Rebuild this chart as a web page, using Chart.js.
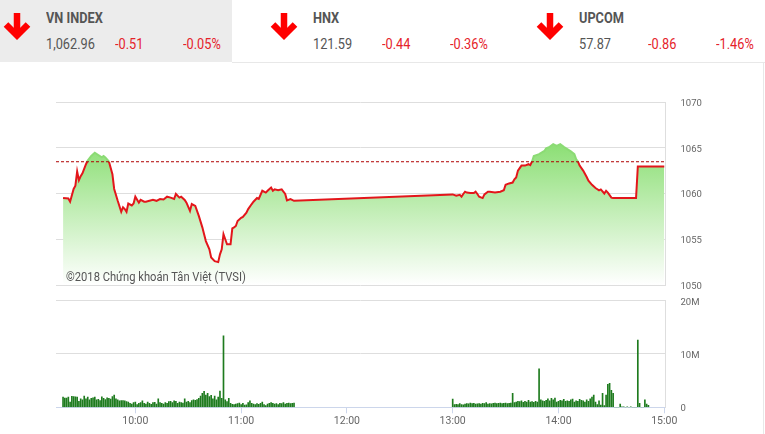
<!DOCTYPE html>
<html>
<head>
<meta charset="utf-8">
<script src="https://cdn.jsdelivr.net/npm/chart.js@4.4.1/dist/chart.umd.min.js"></script>
<style>
  html, body { margin: 0; padding: 0; background: #fff; }
  body { width: 765px; height: 434px; position: relative; overflow: hidden; font-family: Roboto, sans-serif; }
  .hdrbox { position: absolute; left: 0; top: 0; width: 232px; height: 62px; background: #ececec; }
  .hline { position: absolute; left: 232px; top: 62px; width: 533px; height: 1px; background: #e8e8e8; }
  .vline { position: absolute; left: 763px; top: 62px; width: 1px; height: 372px; background: #e8e8e8; }
  .t { position: absolute; white-space: nowrap; font-size: 15px; line-height: 15px; transform: scaleX(0.85); transform-origin: 0 0; color: #555; }
  .b { font-weight: bold; }
  .r { color: #e5222a; }
  .arrow { position: absolute; }
  .wm { position: absolute; left: 66px; top: 270px; font-size: 13px; line-height: 13px; color: #555; white-space: nowrap; transform: scaleX(0.86); transform-origin: 0 0; z-index: 5; }
  canvas { position: absolute; left: 0; }
</style>
</head>
<body>
<div class="hdrbox"></div>
<div class="hline"></div>
<div class="vline"></div>
<div id="hdr"></div>
<canvas id="pc" width="765" height="240" style="top:70px;width:765px;height:240px"></canvas>
<canvas id="vc" width="765" height="164" style="top:270px;width:765px;height:164px"></canvas>
<div class="wm">©2018 Chứng khoán Tân Việt (TVSI)</div>
<script>
// ---------- header data ----------
const idxNames   = ['VN INDEX', 'HNX', 'UPCOM'];
const idxValues  = ['1,062.96', '121.59', '57.87'];
const idxChanges = ['-0.51', '-0.44', '-0.86'];
const idxPcts    = ['-0.05%', '-0.36%', '-1.46%'];

// ---------- price data (VN-Index intraday) ----------
const refValue = 1063.47; // previous close
const priceTimes = [
 '09:19','09:22','09:23','09:25','09:26','09:27','09:28','09:29','09:30','09:32','09:33','09:35','09:37','09:39','09:41','09:42','09:43','09:45','09:47','09:48',
 '09:50','09:52','09:53','09:54','09:55','09:56','09:58','09:59','10:00','10:02','10:03','10:05','10:06','10:08','10:10','10:12','10:14','10:16','10:18','10:20',
 '10:22','10:23','10:25','10:26','10:28','10:29','10:31','10:32','10:34','10:36','10:38','10:39','10:40','10:42','10:43','10:45','10:47','10:48','10:49','10:50',
 '10:51','10:52','10:54','10:55','10:56','10:57','10:58','11:00','11:01','11:03','11:04','11:06','11:07','11:09','11:10','11:12','11:14','11:15','11:17','11:18',
 '11:19','11:21','11:23','11:25','11:26','11:28','11:30',
 '13:00','13:02','13:04','13:05','13:06','13:07','13:08','13:10','13:12','13:13','13:14','13:15','13:17','13:18','13:20','13:21','13:24','13:27','13:29','13:30',
 '13:32','13:34','13:35','13:36','13:37','13:39','13:41','13:43','13:44','13:45','13:46','13:49','13:52','13:53','13:55','13:57','13:59','14:01','14:03','14:05',
 '14:07','14:09','14:10','14:11','14:12','14:14','14:16','14:17','14:19','14:21','14:23','14:24','14:26','14:27','14:28','14:30','14:31','14:44','14:45','15:00'
];
const priceValues = [
 1059.5,1059.45,1059.1,1060.5,1060.85,1062.4,1061.45,1061.9,1062.2,1063.2,1063.6,1064.1,1064.45,1064.2,1063.95,1064.1,1063.95,1063.5,1062.1,1060.5,
 1059.2,1058.0,1058.5,1058.3,1058.0,1058.9,1058.7,1058.9,1059.65,1059.0,1059.3,1059.1,1059.1,1059.2,1059.3,1059.2,1059.4,1059.35,1059.65,1059.55,
 1059.4,1059.95,1059.55,1059.65,1059.3,1059.0,1058.1,1058.85,1058.65,1057.55,1056.3,1055.55,1054.8,1053.9,1053.0,1052.6,1052.5,1053.35,1053.9,1055.55,
 1055.0,1054.45,1054.45,1056.2,1056.3,1056.45,1057.0,1057.35,1057.45,1057.9,1058.3,1058.85,1059.1,1059.5,1059.4,1060.3,1060.1,1060.3,1060.65,1060.3,
 1060.45,1060.35,1060.45,1059.95,1059.25,1059.4,1059.2,
 1059.9,1059.75,1059.85,1059.65,1059.95,1060.2,1060.1,1060.05,1060.05,1060.2,1059.95,1059.65,1059.5,1059.9,1060.2,1060.2,1060.1,1060.2,1060.35,1060.95,
 1061.1,1061.2,1061.55,1061.75,1062.5,1063.05,1063.05,1063.2,1063.1,1063.5,1064.1,1064.3,1064.65,1064.95,1065.1,1065.4,1065.2,1065.4,1065.1,1064.85,
 1064.6,1064.3,1063.75,1063.5,1063.05,1062.5,1061.8,1061.4,1060.95,1060.6,1060.35,1060.45,1060.0,1060.3,1060.1,1059.55,1059.5,1059.5,1062.96,1062.96
];

// ---------- volume data (millions of shares, one bar per minute) ----------
const volAMStart = '09:19';
const volAM = [
 1.9,1.75,1.75,1.9,1.0,2.05,2.0,1.95,1.9,1.1,1.6,1.4,
 2.1,1.6,1.9,1.4,1.7,1.8,1.9,1.4,1.5,1.25,1.95,1.7,1.45,
 1.8,1.7,1.55,2.0,2.3,1.6,1.4,1.2,1.25,1.25,1.2,1.05,1.0,
 0.75,0.6,0.9,1.0,0.5,0.75,0.9,1.2,0.75,0.6,1.0,0.75,0.55,0.9,0.95,0.6,1.6,
 0.9,0.75,0.6,0.9,0.75,1.05,1.1,0.9,1.2,1.1,0.75,1.0,0.9,0.8,1.6,1.0,1.1,0.9,1.25,1.4,1.3,1.45,
 1.7,2.1,2.6,3.0,2.3,2.6,2.0,2.25,1.6,2.1,1.4,1.9,3.05,1.7,13.4,
 1.4,1.05,1.7,0.75,0.55,0.5,0.6,0.7,0.8,0.5,0.75,0.4,0.45,0.9,1.2,0.75,0.6,0.5,0.7,0.55,
 0.75,1.0,0.5,0.3,0.6,0.75,0.9,0.75,0.6,0.7,0.5,0.75,0.7,0.9,0.6,0.75,0.8,0.7,0.75,0.8
];
const volPMStart = '13:00';
const volPM = [
 1.55,
 0.5,0.55,0.5,0.7,0.5,0.45,0.6,0.7,0.65,0.8,
 0.7,0.75,0.6,0.65,0.7,0.6,0.75,0.7,0.9,0.6,
 0.7,0.65,0.75,0.8,0.7,0.75,0.8,0.7,0.75,0.8,
 0.7,0.75,0.8,2.6,
 0.9,1.0,1.1,1.05,1.2,0.95,1.1,1.0,1.3,1.0,1.05,0.95,1.1,1.0,
 7.2,
 1.4,1.2,1.1,1.3,1.6,1.2,1.7,1.4,1.75,1.0,
 1.1,1.3,1.2,1.5,1.1,1.2,1.1,1.4,1.55,1.0,
 1.2,1.1,1.5,1.3,1.2,1.0,1.4,1.1,1.6,1.9,
 2.3,
 1.0,0.5,1.2,0.4,2.6,0.3,2.3,4.3,4.5,3.2,2.6,
 0,0,0,0.6,0.1,0.1,0,0.1,0,0.1,0,0,0,12.6,0.75,0,0,1.4,0.6,0.35
];

// ---------- axis labels ----------
const hourLabels = ['10:00','11:00','12:00','13:00','14:00','15:00'];
const priceTicks = [1050, 1055, 1060, 1065, 1070];
const volTicks = [0, 10, 20];

// ---------- helpers ----------
const toMin = s => { const p = s.split(':').map(Number); return p[0] * 60 + p[1]; };
const fmtMin = v => { const h = Math.floor(v / 60), m = Math.round(v - h * 60); return String(h).padStart(2, '0') + ':' + String(m).padStart(2, '0'); };
const X_MIN = toMin('09:15');
const X_MAX = toMin('15:00') + 0.7;

// ---------- header ----------
const hdr = document.getElementById('hdr');
idxNames.forEach((name, i) => {
  const left = i * 266.7 + 46;
  const arrow = document.createElement('div');
  arrow.className = 'arrow';
  arrow.style.left = (left - 44) + 'px';
  arrow.style.top = '11px';
  arrow.innerHTML = '<svg width="30" height="32" viewBox="0 0 30 32"><path d="M15 2 V24" stroke="#f00" stroke-width="6.5"/><path d="M4 13.5 L15 24.5 L26 13.5" fill="none" stroke="#f00" stroke-width="6.5" stroke-linejoin="miter"/></svg>';
  hdr.appendChild(arrow);
  const add = (txt, cls, x, y) => { const d = document.createElement('div'); d.className = 't ' + cls; d.textContent = txt; d.style.left = x + 'px'; d.style.top = y + 'px'; hdr.appendChild(d); };
  add(name, 'b', left, 11.4);
  add(idxValues[i], '', left, 36.7);
  add(idxChanges[i], 'r', left + 69, 36.7);
  add(idxPcts[i], 'r', left + 137, 36.7);
});

Chart.defaults.font.family = 'Roboto';

// ---------- price chart ----------
const lineColor = (ctx) => {
  const c = ctx.chart, a = c.chartArea;
  if (!a) return '#e3161b';
  const y = c.scales.y.getPixelForValue(refValue);
  const f = Math.min(1, Math.max(0, (y - a.top) / (a.bottom - a.top)));
  const g = c.ctx.createLinearGradient(0, a.top, 0, a.bottom);
  g.addColorStop(0, '#8bdb74'); g.addColorStop(f, '#8bdb74');
  g.addColorStop(f, '#e3161b'); g.addColorStop(1, '#e3161b');
  return g;
};
const fillColor = (ctx) => {
  const c = ctx.chart, a = c.chartArea;
  if (!a) return 'rgba(150,225,130,0.6)';
  const g = c.ctx.createLinearGradient(0, a.top, 0, a.bottom);
  g.addColorStop(0, 'rgb(105,213,75)');
  g.addColorStop(1, 'rgb(255,255,255)');
  return g;
};

new Chart(document.getElementById('pc'), {
  type: 'line',
  data: {
    datasets: [
      {
        data: [{ x: X_MIN, y: refValue }, { x: X_MAX, y: refValue }],
        borderColor: '#b00000', borderWidth: 1, borderDash: [3, 2],
        pointRadius: 0, fill: false, order: 0
      },
      {
        data: priceTimes.map((t, i) => ({ x: toMin(t), y: priceValues[i] })),
        borderColor: lineColor, backgroundColor: fillColor, fill: 'start',
        borderWidth: 2, pointRadius: 0, tension: 0, order: 1
      }
    ]
  },
  options: {
    responsive: false, animation: false, events: [],
    layout: { padding: { left: 56, top: 32, bottom: 25, right: 0 } },
    plugins: { legend: { display: false }, tooltip: { enabled: false } },
    scales: {
      x: { type: 'linear', min: X_MIN, max: X_MAX, display: false },
      y: {
        position: 'right', min: 1050, max: 1070,
        afterBuildTicks: s => { s.ticks = priceTicks.map(v => ({ value: v })); },
        ticks: { callback: v => String(v), padding: 15, labelOffset: 1.5, color: '#666', font: { size: 9.5 } },
        grid: { color: '#dedede', drawTicks: false },
        border: { display: true, color: '#dedede' },
        afterFit: s => { s.width = 99.5; }
      }
    }
  }
});

// ---------- volume chart ----------
const volPoints = [];
volAM.forEach((v, i) => volPoints.push({ x: toMin(volAMStart) + i, y: v }));
volPM.forEach((v, i) => volPoints.push({ x: toMin(volPMStart) + i, y: v }));

new Chart(document.getElementById('vc'), {
  type: 'bar',
  data: { datasets: [{ data: volPoints, backgroundColor: '#1e7b1e', borderWidth: 0, barThickness: 1 }] },
  options: {
    responsive: false, animation: false, events: [],
    layout: { padding: { left: 56, top: 30.7, bottom: 0, right: 0 } },
    plugins: { legend: { display: false }, tooltip: { enabled: false } },
    scales: {
      x: {
        type: 'linear', min: X_MIN, max: X_MAX, offset: false,
        afterBuildTicks: s => { s.ticks = hourLabels.map(h => ({ value: toMin(h) })); },
        ticks: { callback: v => fmtMin(v), autoSkip: false, maxRotation: 0, padding: 2, color: '#666', font: { size: 10.5 } },
        grid: { offset: false, drawOnChartArea: false, drawTicks: true, tickLength: 6, color: '#ccd6eb' },
        border: { display: true, color: '#ccd6eb' },
        afterFit: s => { s.height = 26.7; }
      },
      y: {
        position: 'right', min: 0, max: 20,
        afterBuildTicks: s => { s.ticks = volTicks.map(v => ({ value: v })); },
        ticks: { callback: v => (v === 0 ? '0' : v + 'M'), padding: 15, labelOffset: 1.5, color: '#666', font: { size: 9.5 } },
        grid: { color: c => (c.tick && c.tick.value === 0 ? 'rgba(0,0,0,0)' : '#dedede'), drawTicks: false },
        border: { display: true, color: '#dedede' },
        afterFit: s => { s.width = 99.5; }
      }
    }
  }
});
</script>
</body>
</html>
